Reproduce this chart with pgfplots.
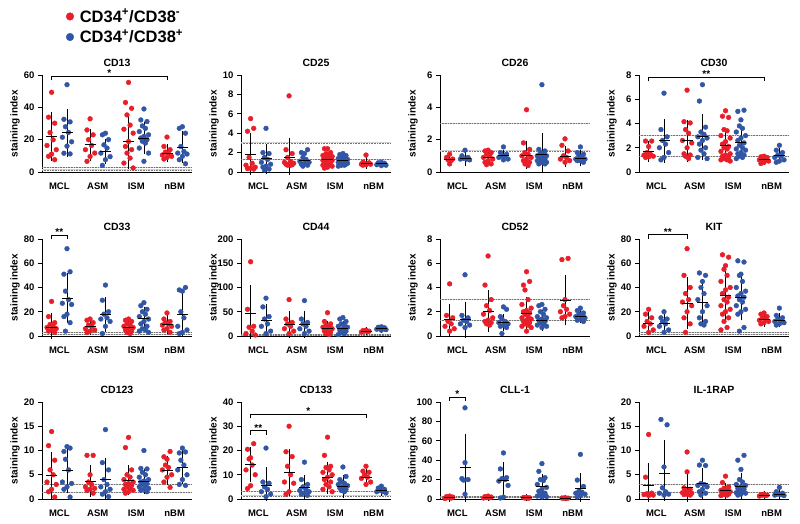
\documentclass[border=0pt]{standalone}
\usepackage{pgfplots}
\pgfplotsset{compat=1.18}
\usepackage{fontspec}
\setmainfont{Liberation Sans}
\definecolor{ptred}{RGB}{232,30,40}
\definecolor{ptblue}{RGB}{50,86,166}
\pgfplotsset{
  panel/.style={
    scale only axis, width=150pt, height=97pt,
    xmin=0.55, xmax=4.45, ymin=0,
    axis x line*=bottom, axis y line*=left,
    axis line style={line width=0.9pt},
    xtick={1,2,3,4}, xticklabels={MCL,ASM,ISM,nBM},
    every tick/.style={black, line width=0.9pt},
    major x tick style={draw=none},
    tick align=outside, major tick length=4pt,
    tick label style={font=\bfseries\fontsize{9.5}{10}\selectfont},
    xticklabel style={yshift=-3pt},
    /pgf/number format/assume math mode=true,
    ylabel={staining index},
    ylabel style={at={(axis description cs:-0.18,0.5)}, anchor=center, font=\bfseries\fontsize{10}{11}\selectfont},
    title style={at={(axis description cs:0.5,1)}, anchor=base, yshift=2.5pt, font=\bfseries\fontsize{10.5}{11}\selectfont},
    clip=false,
  },
  rdot/.style={only marks, mark=*, mark size=2.4pt, color=ptred},
  bdot/.style={only marks, mark=*, mark size=2.4pt, color=ptblue},
  msd/.style={forget plot, only marks, black, mark=-, mark size=5.5pt, mark options={line width=0.9pt},
    error bars/.cd, y dir=both, y explicit, error bar style={line width=0.8pt},
    error mark options={mark size=3pt, line width=0.8pt, black}},
  thr/.style={forget plot, gray!35, line width=1pt},
  thd/.style={forget plot, black!55, line width=0.6pt, densely dotted},
}
% cut-off lines at 3 and 1.3
\newcommand\thresholds{%
  \addplot[thr] coordinates {(0.55,3) (4.45,3)};
  \addplot[thd] coordinates {(0.55,3) (4.45,3)};
  \addplot[thr] coordinates {(0.55,1.3) (4.45,1.3)};
  \addplot[thd] coordinates {(0.55,1.3) (4.45,1.3)};}
% significance bracket: x1, x2, xmid, y, stars
\newcommand\bracket[5]{%
  \draw[line width=0.8pt] ([yshift=-4pt]axis cs:#1,#4) -- (axis cs:#1,#4) -- (axis cs:#2,#4) -- ([yshift=-4pt]axis cs:#2,#4);
  \node[anchor=base, inner sep=0pt, font=\bfseries\fontsize{10}{10}\selectfont] at ([yshift=-0.5pt]axis cs:#3,#4) {#5};}

\begin{document}
\begin{tikzpicture}
\useasboundingbox (0,0) rectangle (800pt,524pt);

% ---------------- row 1 ----------------
\begin{axis}[panel, at={(42pt,352pt)}, anchor=south west, title={CD13}, ymax=60, ytick={0,20,40,60},
  legend style={at={(axis description cs:0,1)}, anchor=north west, xshift=21pt, yshift=70pt,
    draw=none, fill=none, font=\bfseries\fontsize{16.5}{18}\selectfont, row sep=2pt,
    /tikz/every odd column/.append style={column sep=4pt}},
  legend cell align=left,
  legend image code/.code={\draw[#1, mark size=3.8pt] plot coordinates {(0pt,0pt)};}]
\thresholds
\addplot[rdot] coordinates {(.8,49.3)(.72,33.9)(.88,30.2)(.76,24.4)(.84,19.9)(.68,16.4)(.92,13.8)(.8,11.1)(.72,9.7)(.88,7.6)
 (1.8,32.9)(1.72,26)(1.88,23)(1.76,20)(1.84,16.4)(1.68,13.8)(1.92,11.7)(1.8,9.6)(1.72,6.6)
 (2.8,55.4)(2.72,43)(2.88,39.4)(2.76,35.3)(2.84,29)(2.68,26.5)(2.92,24)(2.8,18.9)(2.72,15.8)(2.88,13.8)(2.76,11.7)(2.84,8.6)(2.68,5.5)(2.92,2.5)
 (3.8,21.6)(3.72,15.8)(3.88,13.8)(3.76,12.3)(3.84,11.3)(3.68,10.5)(3.92,9.7)(3.8,9)(3.72,8)};
\addlegendentry{CD34\textsuperscript{+}/CD38\textsuperscript{-}}
\addplot[bdot] coordinates {(1.2,54)(1.12,32.6)(1.28,31)(1.16,28)(1.24,24.5)(1.08,21.5)(1.32,18.7)(1.2,16)(1.12,11.6)(1.28,11.2)
 (2.2,24)(2.12,23)(2.28,20)(2.16,16.8)(2.24,14.8)(2.08,11.7)(2.32,9.5)(2.2,7.6)(2.12,4.1)
 (3.2,39)(3.12,32.2)(3.28,31.2)(3.16,28.5)(3.24,27)(3.08,25)(3.32,23)(3.2,22)(3.12,21)(3.28,20)(3.16,19)(3.24,17.9)(3.08,14.8)(3.32,11.7)(3.2,6.6)
 (4.2,28)(4.12,27)(4.28,24)(4.16,15.8)(4.24,12.7)(4.08,11.7)(4.32,11.1)(4.2,9.7)(4.12,7.6)(4.28,5.1)};
\addlegendentry{CD34\textsuperscript{+}/CD38\textsuperscript{+}}
\addplot[msd] coordinates {(.8,22) +- (0,13.5) (1.2,24.2) +- (0,13) (1.8,16.8) +- (0,7.9) (2.2,12.7) +- (0,6)
 (2.8,18.9) +- (0,15) (3.2,21) +- (0,8.2) (3.8,11.7) +- (0,3.6) (4.2,15.2) +- (0,8)};
\bracket{0.8}{3.8}{2.3}{59.3}{*}
\end{axis}

\begin{axis}[panel, at={(241pt,352pt)}, anchor=south west, title={CD25}, ymax=10, ytick={0,2,4,6,8,10}]
\thresholds
\addplot[rdot] coordinates {(.8,5.5)(.88,4.5)(.72,4.2)(.76,1.5)(.84,0.9)(.68,0.7)(.92,0.5)(.8,0.4)(.72,0.35)(.88,0.3)
 (1.8,7.85)(1.72,2.3)(1.88,1.9)(1.76,1.5)(1.84,1.1)(1.68,1.0)(1.92,0.9)(1.8,0.85)(1.72,0.8)(1.88,0.75)(1.76,0.7)(1.84,0.7)
 (2.8,2.4)(2.72,2.4)(2.88,2.0)(2.76,1.9)(2.84,1.8)(2.68,1.7)(2.92,1.6)(2.8,1.5)(2.72,1.5)(2.88,1.4)(2.76,1.3)(2.84,1.3)(2.68,1.2)(2.92,1.2)(2.8,1.1)(2.72,1.0)(2.88,1.0)(2.76,0.9)(2.84,0.8)(2.68,0.7)(2.92,0.6)(2.8,0.5)(2.72,0.4)
 (3.8,1.75)(3.72,1.0)(3.88,0.95)(3.76,0.9)(3.84,0.85)(3.68,0.8)(3.92,0.8)(3.8,0.75)(3.72,0.7)};
\addplot[bdot] coordinates {(1.2,4.5)(1.12,2.0)(1.28,1.9)(1.16,1.5)(1.24,1.3)(1.08,1.0)(1.32,0.8)(1.2,0.6)(1.12,0.5)(1.28,0.3)(1.16,0.2)
 (2.28,2.3)(2.12,2.0)(2.2,1.9)(2.16,1.5)(2.24,1.3)(2.08,1.1)(2.32,1.0)(2.2,0.9)(2.12,0.8)(2.28,0.7)(2.16,0.6)
 (3.2,1.9)(3.12,1.8)(3.28,1.7)(3.16,1.6)(3.24,1.5)(3.08,1.4)(3.32,1.3)(3.2,1.3)(3.12,1.2)(3.28,1.1)(3.16,1.1)(3.24,1.0)(3.08,1.0)(3.32,0.9)(3.2,0.9)(3.12,0.8)(3.28,0.8)(3.16,0.7)(3.24,0.7)(3.08,0.6)
 (4.2,1.0)(4.12,0.95)(4.28,0.9)(4.16,0.85)(4.24,0.8)(4.08,0.75)(4.32,0.7)(4.2,0.65)};
\addplot[msd] coordinates {(.8,1.85) += (0,1.9) -= (0,1.85) (1.2,1.35) += (0,1.2) -= (0,1.2) (1.8,1.5) += (0,1.7) -= (0,1.5)
 (2.2,1.2) +- (0,0.35) (2.8,1.3) +- (0,0.5) (3.2,1.15) +- (0,0.35) (3.8,0.9) +- (0,0.3) (4.2,0.85) +- (0,0.1)};
\end{axis}

\begin{axis}[panel, at={(440pt,352pt)}, anchor=south west, title={CD26}, ymax=6, ytick={0,2,4,6}]
\thresholds
\addplot[rdot] coordinates {(.8,1.1)(.72,0.9)(.88,0.8)(.76,0.75)(.84,0.7)(.8,0.5)
 (1.8,1.35)(1.72,1.3)(1.88,1.2)(1.76,1.1)(1.84,1.0)(1.68,0.9)(1.92,0.8)(1.8,0.7)(1.72,0.6)(1.88,0.5)(1.76,0.45)
 (2.8,3.85)(2.72,1.8)(2.88,1.4)(2.76,1.2)(2.84,1.1)(2.68,1.0)(2.92,0.9)(2.8,0.8)(2.72,0.7)(2.88,0.6)(2.76,0.5)(2.84,0.4)
 (3.8,2.05)(3.72,1.65)(3.88,1.3)(3.76,1.0)(3.84,0.9)(3.68,0.8)(3.92,0.7)(3.8,0.6)};
\addplot[bdot] coordinates {(1.2,1.35)(1.12,1.0)(1.28,0.9)(1.16,0.85)(1.24,0.8)(1.08,0.8)(1.32,0.75)
 (2.2,1.55)(2.12,1.2)(2.28,1.1)(2.16,1.0)(2.24,1.0)(2.08,0.9)(2.32,0.8)(2.2,0.75)
 (3.2,5.4)(3.12,1.4)(3.28,1.3)(3.16,1.2)(3.24,1.1)(3.08,1.0)(3.32,1.0)(3.2,0.9)(3.12,0.9)(3.28,0.8)(3.16,0.8)(3.24,0.7)(3.08,0.7)(3.32,0.6)(3.2,0.6)(3.12,0.5)(3.28,0.5)
 (4.2,1.55)(4.12,1.2)(4.28,1.1)(4.16,1.0)(4.24,0.9)(4.08,0.8)(4.32,0.8)(4.2,0.7)(4.12,0.7)(4.28,0.6)};
\addplot[msd] coordinates {(.8,0.8) +- (0,0.2) (1.2,0.85) +- (0,0.3) (1.8,0.9) +- (0,0.3) (2.2,1.0) +- (0,0.2)
 (2.8,1.05) +- (0,0.7) (3.2,1.1) += (0,1.1) -= (0,1.0) (3.8,0.95) +- (0,0.45) (4.2,0.85) +- (0,0.3)};
\end{axis}

\begin{axis}[panel, at={(639pt,352pt)}, anchor=south west, title={CD30}, ymax=8, ytick={0,2,4,6,8}]
\thresholds
\addplot[rdot] coordinates {(.72,2.55)(.88,2.55)(.8,2.1)(.76,1.6)(.84,1.5)(.68,1.4)(.92,1.3)(.8,1.25)(.72,1.2)
 (1.8,6.75)(1.72,4.15)(1.88,4.05)(1.76,3.5)(1.84,3.2)(1.68,2.6)(1.92,2.4)(1.8,2.0)(1.72,1.5)(1.88,1.4)(1.76,1.3)(1.84,1.1)
 (2.8,5.05)(2.72,4.6)(2.88,4.5)(2.76,3.5)(2.84,3.4)(2.68,3.0)(2.92,2.8)(2.8,2.5)(2.72,2.3)(2.88,2.1)(2.76,2.0)(2.84,1.9)(2.68,1.7)(2.92,1.5)(2.8,1.4)(2.72,1.3)(2.88,1.2)(2.76,1.1)(2.84,1.0)(2.68,1.0)(2.92,0.9)
 (3.8,1.3)(3.72,1.25)(3.88,1.2)(3.76,1.1)(3.84,1.0)(3.68,1.0)(3.92,0.9)(3.8,0.8)(3.72,0.7)};
\addplot[bdot] coordinates {(1.2,6.5)(1.12,3.5)(1.28,2.9)(1.16,2.6)(1.24,2.3)(1.08,2.0)(1.32,1.6)(1.2,1.2)(1.12,1.0)
 (2.2,7.2)(2.12,5.85)(2.28,3.7)(2.16,3.3)(2.24,3.1)(2.08,2.9)(2.32,2.8)(2.2,2.6)(2.12,2.3)(2.28,2.0)(2.16,1.8)(2.24,1.5)(2.08,1.2)(2.32,1.1)
 (3.28,5.1)(3.12,5.0)(3.2,4.3)(3.16,3.8)(3.24,3.6)(3.08,3.3)(3.32,3.0)(3.2,2.8)(3.12,2.6)(3.28,2.4)(3.16,2.2)(3.24,2.0)(3.08,1.9)(3.32,1.8)(3.2,1.6)(3.12,1.5)(3.28,1.4)(3.16,1.3)(3.24,1.2)(3.08,1.1)
 (4.2,2.2)(4.12,1.8)(4.28,1.6)(4.16,1.4)(4.24,1.3)(4.08,1.2)(4.32,1.0)(4.2,0.9)(4.12,0.8)};
\addplot[msd] coordinates {(.8,1.68) +- (0,0.62) (1.2,2.57) +- (0,1.55) (1.8,2.57) +- (0,1.5) (2.2,2.9) +- (0,1.65)
 (2.8,2.17) +- (0,1.0) (3.2,2.4) +- (0,0.95) (3.8,1.0) +- (0,0.2) (4.2,1.35) +- (0,0.4)};
\bracket{0.8}{3.8}{2.3}{7.8}{**}
\end{axis}

% ---------------- row 2 ----------------
\begin{axis}[panel, at={(42pt,188pt)}, anchor=south west, title={CD33}, ymax=80, ytick={0,20,40,60,80}]
\thresholds
\addplot[rdot] coordinates {(.8,28.5)(.72,16)(.88,11)(.76,9.5)(.84,8)(.68,7)(.92,6)(.8,5)(.72,4)(.88,3)
 (1.8,14)(1.72,13)(1.88,11)(1.76,9)(1.84,8)(1.68,6)(1.92,5)(1.8,4)(1.72,3)
 (2.8,14)(2.72,13)(2.88,12)(2.76,10)(2.84,9)(2.68,8)(2.92,7)(2.8,6)(2.72,5)(2.88,4)(2.76,3)(2.84,2)
 (3.8,19)(3.72,14)(3.88,12)(3.76,11)(3.84,10)(3.68,9)(3.92,8)(3.8,6)(3.72,5)(3.88,3)};
\addplot[bdot] coordinates {(1.2,72)(1.28,53)(1.12,51)(1.16,37)(1.24,30)(1.08,27)(1.32,26)(1.2,18)(1.12,16)(1.28,11)(1.16,4)
 (2.2,42)(2.12,29.5)(2.28,20)(2.16,18)(2.24,15)(2.08,14)(2.32,12)(2.2,8)(2.12,2)
 (3.2,27.5)(3.12,25)(3.28,22)(3.16,20)(3.24,18)(3.08,16)(3.32,14)(3.2,12)(3.12,10)(3.28,8)(3.16,6)(3.24,5)(3.08,4)(3.32,3)
 (4.28,40)(4.12,38)(4.2,37)(4.16,20)(4.24,15)(4.08,8)(4.32,5)(4.2,3)(4.12,2)};
\addplot[msd] coordinates {(.8,7.3) += (0,9.5) -= (0,7.3) (1.2,31.3) +- (0,18) (1.8,7.9) +- (0,5) (2.2,17.4) +- (0,12)
 (2.8,7.3) +- (0,3.3) (3.2,14.1) +- (0,7.7) (3.8,9.5) +- (0,5.2) (4.2,17.4) +- (0,15.6)};
\bracket{0.8}{1.2}{1.0}{83}{**}
\end{axis}

\begin{axis}[panel, at={(241pt,188pt)}, anchor=south west, title={CD44}, ymax=200, ytick={0,50,100,150,200}]
\thresholds
\addplot[rdot] coordinates {(.8,153)(.72,55)(.88,20)(.76,18)(.84,10)(.68,5)(.92,2)
 (1.8,75)(1.72,35)(1.88,28)(1.76,25)(1.84,20)(1.68,15)(1.92,10)(1.8,5)
 (2.8,48)(2.72,30)(2.88,25)(2.76,22)(2.84,20)(2.68,18)(2.92,15)(2.8,12)(2.72,10)(2.88,8)(2.76,5)(2.84,3)
 (3.8,12)(3.72,11)(3.88,10)(3.76,10)(3.84,9)(3.68,8)};
\addplot[bdot] coordinates {(1.2,78)(1.12,60)(1.28,40)(1.16,35)(1.24,25)(1.08,20)(1.32,10)(1.2,5)
 (2.2,73)(2.12,35)(2.28,28)(2.16,25)(2.24,20)(2.08,15)(2.32,10)(2.2,5)
 (3.2,38)(3.12,35)(3.28,30)(3.16,25)(3.24,22)(3.08,20)(3.32,18)(3.2,15)(3.12,12)(3.28,10)(3.16,7)(3.24,5)(3.08,3)
 (4.2,19)(4.12,18)(4.28,17)(4.16,16)(4.24,15)(4.08,14)(4.32,13)(4.2,12)};
\addplot[msd] coordinates {(.8,45.6) += (0,53) -= (0,45.6) (1.2,33) +- (0,27) (1.8,24) +- (0,21.5) (2.2,24) +- (0,21.5)
 (2.8,15) +- (0,10) (3.2,15) +- (0,10) (3.8,10) +- (0,1.5) (4.2,15) +- (0,2.5)};
\end{axis}

\begin{axis}[panel, at={(440pt,188pt)}, anchor=south west, title={CD52}, ymax=8, ytick={0,2,4,6,8}]
\thresholds
\addplot[rdot] coordinates {(.8,4.3)(.72,1.7)(.88,1.5)(.76,1.2)(.84,1.0)(.68,0.8)(.92,0.6)(.8,0.4)
 (1.8,6.6)(1.72,4.2)(1.88,3.0)(1.76,2.5)(1.84,2.1)(1.68,1.8)(1.92,1.5)(1.8,1.3)(1.72,1.2)(1.88,1.1)(1.76,1.0)(1.84,0.9)
 (2.8,5.3)(2.88,4.5)(2.72,4.2)(2.76,3.8)(2.84,3.0)(2.68,2.6)(2.92,2.3)(2.8,2.1)(2.72,2.0)(2.88,1.9)(2.76,1.8)(2.84,1.6)(2.68,1.5)(2.92,1.4)(2.8,1.3)(2.72,1.2)(2.88,1.1)(2.76,1.0)(2.84,0.9)(2.68,0.8)(2.92,0.7)(2.8,0.4)
 (3.88,6.4)(3.72,6.3)(3.8,3.0)(3.76,2.5)(3.84,2.2)(3.68,2.0)(3.92,1.8)(3.8,1.6)(3.72,1.5)};
\addplot[bdot] coordinates {(1.2,5.05)(1.12,1.7)(1.28,1.5)(1.16,1.3)(1.24,1.2)(1.08,1.0)(1.32,0.9)(1.2,0.7)
 (2.2,2.4)(2.28,2.2)(2.12,1.6)(2.16,1.4)(2.24,1.2)(2.08,1.1)(2.32,1.0)(2.2,0.9)(2.12,0.8)(2.28,0.7)(2.16,0.2)
 (3.2,2.6)(3.12,2.5)(3.28,2.2)(3.16,2.0)(3.24,1.8)(3.08,1.6)(3.32,1.5)(3.2,1.4)(3.12,1.3)(3.28,1.2)(3.16,1.1)(3.24,1.0)(3.08,0.9)(3.32,0.8)(3.2,0.7)
 (4.2,2.3)(4.12,2.1)(4.28,1.9)(4.16,1.8)(4.24,1.7)(4.08,1.6)(4.32,1.5)(4.2,1.4)(4.12,1.3)(4.28,1.2)};
\addplot[msd] coordinates {(.8,1.33) +- (0,1.1) (1.2,1.33) +- (0,1.25) (1.8,2.04) +- (0,1.5) (2.2,1.14) +- (0,0.45)
 (2.8,1.82) +- (0,1.15) (3.2,1.28) +- (0,0.6) (3.8,2.97) +- (0,1.85) (4.2,1.6) +- (0,0.3)};
\end{axis}

\begin{axis}[panel, at={(639pt,188pt)}, anchor=south west, title={KIT}, ymax=80, ytick={0,20,40,60,80}]
\thresholds
\addplot[rdot] coordinates {(.8,22)(.72,18)(.88,15)(.76,12)(.84,10)(.68,8)(.92,5)(.8,3)
 (1.8,72)(1.72,50)(1.88,40)(1.76,35)(1.84,30)(1.68,28)(1.92,25)(1.8,20)(1.72,15)(1.88,10)(1.76,3)
 (2.72,67)(2.88,65)(2.8,58)(2.76,55)(2.84,50)(2.68,45)(2.92,40)(2.8,38)(2.72,35)(2.88,32)(2.76,30)(2.84,28)(2.68,25)(2.92,22)(2.8,20)(2.72,18)(2.88,15)(2.76,12)(2.84,7)(2.68,5)
 (3.8,19)(3.72,18)(3.88,16)(3.76,15)(3.84,14)(3.68,13)(3.92,12)(3.8,11)(3.72,10)};
\addplot[bdot] coordinates {(1.2,20)(1.12,15)(1.28,14)(1.16,12)(1.24,10)(1.08,8)(1.32,5)(1.2,3)
 (2.12,52)(2.28,50)(2.2,45)(2.16,40)(2.24,35)(2.08,30)(2.32,25)(2.2,20)(2.12,15)(2.28,12)(2.16,10)(2.24,9)
 (3.12,62)(3.28,61)(3.2,51)(3.16,50)(3.24,45)(3.08,40)(3.32,37)(3.2,35)(3.12,33)(3.28,32)(3.16,30)(3.24,28)(3.08,25)(3.32,22)(3.2,20)(3.12,18)(3.28,7)(3.16,4)
 (4.2,23)(4.12,17)(4.28,15)(4.16,14)(4.24,13)(4.08,12)(4.32,11)(4.2,10)(4.12,9)};
\addplot[msd] coordinates {(.8,10) +- (0,7) (1.2,10) +- (0,5.5) (1.8,27) +- (0,19) (2.2,27.8) +- (0,16.5)
 (2.8,33.7) +- (0,19) (3.2,31.8) +- (0,16.5) (3.8,13.3) +- (0,3.6) (4.2,12.8) +- (0,3.3)};
\bracket{0.8}{1.8}{1.3}{83.5}{**}
\end{axis}

% ---------------- row 3 ----------------
\begin{axis}[panel, at={(42pt,25pt)}, anchor=south west, title={CD123}, ymax=20, ytick={0,5,10,15,20}]
\thresholds
\addplot[rdot] coordinates {(.8,13.9)(.72,11)(.88,8)(.76,6)(.84,5)(.68,3.5)(.92,3)(.8,2)(.72,1.5)(.88,0.4)
 (1.72,9)(1.88,9)(1.8,5)(1.76,3.5)(1.84,3)(1.68,2.5)(1.92,2.2)(1.8,2.0)(1.72,1.8)(1.88,1.2)
 (2.8,12.7)(2.72,10.6)(2.88,6)(2.76,5)(2.84,4.5)(2.68,4)(2.92,3.5)(2.8,3.2)(2.72,3.0)(2.88,2.8)(2.76,2.5)(2.84,2.2)(2.68,2.0)(2.92,1.8)(2.8,1.5)(2.72,1.2)
 (3.88,9.8)(3.72,8.7)(3.8,8.2)(3.76,7)(3.84,6.5)(3.68,6)(3.92,5)(3.8,4.5)(3.72,3.5)(3.88,2.4)};
\addplot[bdot] coordinates {(1.2,10.8)(1.28,10.5)(1.12,9.8)(1.16,8.2)(1.24,6)(1.08,3.5)(1.32,3.2)(1.2,2.5)(1.12,2)(1.28,0.4)
 (2.2,14.3)(2.12,7.5)(2.28,6)(2.16,4)(2.24,3)(2.08,2.5)(2.32,2)(2.2,1.5)(2.12,1)(2.28,0.5)
 (3.2,10)(3.12,6.3)(3.28,6.2)(3.16,5.5)(3.24,5)(3.08,4.5)(3.32,4)(3.2,3.7)(3.12,3.5)(3.28,3.2)(3.16,3.0)(3.24,2.8)(3.08,2.5)(3.32,2.2)(3.2,2.0)(3.12,1.8)(3.28,1.5)
 (4.2,10.5)(4.28,9.7)(4.12,9.5)(4.16,8)(4.24,7)(4.08,6)(4.32,5)(4.2,4)(4.12,3)(4.28,2.8)};
\addplot[msd] coordinates {(.8,4.86) +- (0,4.3) (1.2,5.8) +- (0,3.9) (1.8,3.7) +- (0,2.6) (2.2,4.05) +- (0,3.7)
 (2.8,3.9) +- (0,2.5) (3.2,3.6) +- (0,2) (3.8,5.95) +- (0,2.35) (4.2,6.6) +- (0,2.9)};
\end{axis}

\begin{axis}[panel, at={(241pt,25pt)}, anchor=south west, title={CD133}, ymax=40, ytick={0,10,20,30,40}]
\thresholds
\addplot[rdot] coordinates {(.88,22.8)(.72,20.5)(.8,17)(.76,16.5)(.84,14)(.68,12)(.92,10)(.8,5.5)(.72,4.3)
 (1.8,30)(1.72,19.5)(1.88,17.5)(1.76,13.5)(1.84,10)(1.68,7)(1.92,6.5)(1.8,3)(1.72,2)
 (2.8,25.5)(2.72,18)(2.88,13.5)(2.76,13)(2.84,12)(2.68,11)(2.92,10)(2.8,9)(2.72,8)(2.88,7)(2.76,6)(2.84,5)(2.68,4)(2.92,3)
 (3.8,13.5)(3.72,11.5)(3.88,11)(3.76,10)(3.84,9)(3.68,8.5)(3.92,7)(3.8,6)};
\addplot[bdot] coordinates {(1.2,21)(1.12,7)(1.28,6.5)(1.16,5)(1.24,4)(1.08,3)(1.32,2)(1.2,1)
 (2.2,15.2)(2.12,8)(2.28,6)(2.16,5)(2.24,4)(2.08,3.5)(2.32,3)(2.2,2.5)(2.12,2)(2.28,1.5)
 (3.2,13.2)(3.28,9.3)(3.12,8)(3.16,7)(3.24,6.5)(3.08,6)(3.32,5.5)(3.2,5)(3.12,4.5)(3.28,4)(3.16,3.5)(3.24,3)
 (4.2,5.3)(4.12,4.5)(4.28,4)(4.16,3.5)(4.24,3)(4.08,3)(4.32,2.5)};
\addplot[msd] coordinates {(.8,14.2) +- (0,6) (1.2,5.4) += (0,6.5) -= (0,4.9) (1.8,10.8) +- (0,8.5) (2.2,4.7) +- (0,3.8)
 (2.8,8.8) +- (0,5.4) (3.2,5.1) +- (0,3.5) (3.8,8.8) +- (0,2.4) (4.2,3.4) +- (0,0.8)};
\bracket{0.8}{3.8}{2.3}{34.9}{*}
\bracket{0.8}{1.2}{1.0}{28.1}{**}
\end{axis}

\begin{axis}[panel, at={(440pt,25pt)}, anchor=south west, title={CLL-1}, ymax=100, ytick={0,20,40,60,80,100}]
\thresholds
\addplot[rdot] coordinates {(.8,3)(.72,2.5)(.88,2)(.76,1.5)(.84,1)(.68,0.5)
 (1.8,3)(1.72,2.5)(1.88,2)(1.76,1.5)(1.84,1.2)(1.68,1)
 (2.8,1.8)(2.72,1.5)(2.88,1.2)(2.76,1.0)(2.84,0.8)
 (3.8,1.2)(3.72,1.0)(3.88,0.9)(3.76,0.8)(3.84,0.7)};
\addplot[bdot] coordinates {(1.2,94)(1.2,37.5)(1.12,21)(1.28,20)(1.16,19.5)(1.2,5)
 (2.2,47.5)(2.12,31)(2.28,22)(2.16,21)(2.24,20)(2.08,18.5)(2.32,14)(2.2,2)(2.12,1)
 (3.2,36.5)(3.12,28.5)(3.28,22)(3.16,20)(3.24,19)(3.08,15)(3.32,12)(3.2,10)(3.12,8)(3.28,6)(3.16,5)(3.24,4)(3.08,3)(3.32,2.5)(3.2,2)
 (4.2,46)(4.12,19.5)(4.28,13)(4.16,8)(4.24,7)(4.08,6)(4.32,5)(4.2,4)(4.12,2)};
\addplot[msd] coordinates {(.8,1.5) +- (0,1) (1.2,32.4) +- (0,32) (1.8,1.7) +- (0,0.8) (2.2,19.6) +- (0,15.6)
 (2.8,1.2) +- (0,0.4) (3.2,12.8) +- (0,9.5) (3.8,0.9) +- (0,0.2) (4.2,11.1) += (0,12.5) -= (0,11)};
\bracket{0.8}{1.2}{1.0}{104.7}{*}
\end{axis}

\begin{axis}[panel, at={(639pt,25pt)}, anchor=south west, title={IL-1RAP}, ymax=20, ytick={0,5,10,15,20}]
\thresholds
\addplot[rdot] coordinates {(.8,13.3)(.72,4.5)(.88,1.2)(.76,1.1)(.84,1.0)(.68,0.9)(.92,0.8)(.8,0.7)
 (1.8,9.7)(1.8,5.6)(1.72,2.3)(1.88,2.0)(1.76,1.8)(1.84,1.5)(1.68,1.3)(1.92,1.2)(1.8,1.0)(1.72,0.9)(1.88,0.8)
 (2.8,4.7)(2.72,3.4)(2.88,2.5)(2.76,2.2)(2.84,2.0)(2.68,1.8)(2.92,1.5)(2.8,1.3)(2.72,1.2)(2.88,1.0)(2.76,0.9)(2.84,0.8)(2.68,0.7)
 (3.8,1.0)(3.72,0.9)(3.88,0.8)(3.76,0.8)(3.84,0.7)(3.68,0.6)};
\addplot[bdot] coordinates {(1.12,16.4)(1.28,15.3)(1.2,6.6)(1.16,2.3)(1.24,1.5)(1.08,1.2)(1.32,1.0)(1.2,0.8)
 (2.2,8.0)(2.12,7.0)(2.28,6.9)(2.16,3.2)(2.24,3.0)(2.08,2.8)(2.32,2.5)(2.2,2.0)(2.12,1.5)(2.28,1.2)(2.16,0.8)
 (3.28,9.0)(3.12,8.0)(3.2,6.1)(3.16,4.0)(3.24,3.5)(3.08,3.0)(3.32,2.8)(3.2,2.5)(3.12,2.2)(3.28,2.0)(3.16,1.8)(3.24,1.5)(3.08,1.3)(3.32,1.2)(3.2,1.0)(3.12,0.8)
 (4.2,2.4)(4.12,1.5)(4.28,1.2)(4.16,1.0)(4.24,0.9)(4.08,0.8)(4.32,0.7)};
\addplot[msd] coordinates {(.8,2.7) += (0,4.1) -= (0,2.7) (1.2,5.3) += (0,6.3) -= (0,5.0) (1.8,2.4) += (0,2.7) -= (0,2.4)
 (2.2,3.2) +- (0,2.6) (2.8,1.7) +- (0,1) (3.2,2.6) +- (0,2.2) (3.8,0.8) +- (0,0.15) (4.2,1.0) +- (0,0.4)};
\end{axis}
\end{tikzpicture}
\end{document}
